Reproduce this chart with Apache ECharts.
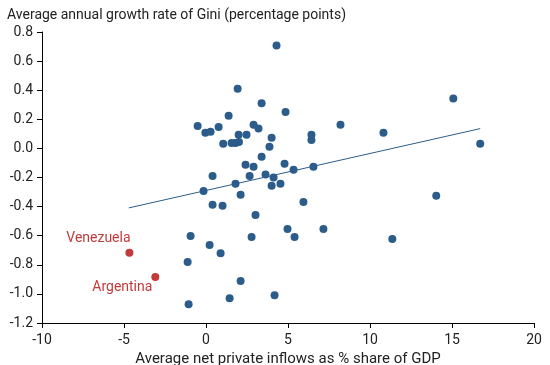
<!DOCTYPE html>
<html><head><meta charset="utf-8">
<script src="https://cdn.jsdelivr.net/npm/echarts@6/dist/echarts.min.js"></script>
<style>html,body{margin:0;padding:0;background:#fff}#c{width:550px;height:365px}</style>
</head><body><div id="c"></div>
<script>
const countryX = [4.30,1.93,3.39,4.85,1.38,-0.51,8.20,-0.04,0.28,0.77,2.90,3.20,1.99,2.47,4.00,6.43,6.43,1.05,1.56,1.80,2.01,3.87,3.39,2.41,2.90,4.79,0.40,2.66,3.63,4.12,5.34,6.55,1.80,4.00,4.54,-0.15,2.11,0.40,1.01,5.94,3.02,-0.94,4.97,7.16,2.78,5.40,0.22,0.89,-1.12,2.11,1.44,4.18,-1.06,15.08,10.82,16.72,14.04,11.36];
const countryY = [0.708,0.41,0.31,0.25,0.225,0.154,0.163,0.108,0.115,0.147,0.163,0.136,0.094,0.094,0.074,0.094,0.057,0.032,0.037,0.037,0.044,0.011,-0.057,-0.113,-0.126,-0.106,-0.19,-0.19,-0.18,-0.2,-0.147,-0.126,-0.243,-0.257,-0.243,-0.292,-0.319,-0.388,-0.395,-0.368,-0.457,-0.602,-0.554,-0.554,-0.609,-0.609,-0.664,-0.72,-0.78,-0.912,-1.03,-1.009,-1.071,0.343,0.108,0.032,-0.326,-0.623];
const highlightNames = ['Venezuela','Argentina'];
const highlightX = [-4.67,-3.09];
const highlightY = [-0.717,-0.883];
const trendX = [-4.71,16.72];
const trendY = [-0.409,0.136];
const xTicks = {min:-10,max:20,interval:5};
const yTicks = {min:-1.2,max:0.8,interval:0.2};

const BLUE = '#2b5c8a', RED = '#c23b3b', TXT = '#222';
const FONT = 'Roboto';
const chart = echarts.init(document.getElementById('c'), null, {renderer:'canvas'});
const labelOffsets = [[-31,-14],[-33,11]];
chart.setOption({
  animation:false,
  textStyle:{fontFamily:FONT},
  title:{text:'Average annual growth rate of Gini (percentage points)',left:2,top:3,
    textStyle:{fontFamily:FONT,fontSize:14,fontWeight:'normal',color:TXT}},
  grid:{left:42,right:16,top:32,bottom:42,containLabel:false,outerBoundsMode:'none'},
  xAxis:{type:'value',min:xTicks.min,max:xTicks.max,interval:xTicks.interval,
    name:'Average net private inflows as % share of GDP',nameLocation:'middle',nameGap:24,
    nameTextStyle:{fontFamily:FONT,fontSize:15,color:TXT},
    axisLine:{onZero:false,lineStyle:{color:'#000',width:1}},
    axisTick:{show:true,length:5,lineStyle:{color:'#000'}},
    axisLabel:{fontFamily:FONT,fontSize:14,color:TXT,margin:10},
    splitLine:{show:false}},
  yAxis:{type:'value',min:yTicks.min,max:yTicks.max,interval:yTicks.interval,
    axisLine:{show:true,onZero:false,lineStyle:{color:'#000',width:1}},
    axisTick:{show:true,length:5,lineStyle:{color:'#000'}},
    axisLabel:{fontFamily:FONT,fontSize:14,color:TXT,margin:9,formatter:v=>v.toFixed(1)},
    splitLine:{show:false}},
  series:[
    {type:'line',data:trendX.map((x,i)=>[x,trendY[i]]),symbol:'none',
      lineStyle:{color:BLUE,width:1},z:1},
    {type:'scatter',data:countryX.map((x,i)=>[x,countryY[i]]),symbolSize:8,
      itemStyle:{color:BLUE,opacity:1},z:2},
    {type:'scatter',symbolSize:8,itemStyle:{color:RED,opacity:1},z:3,
      data:highlightX.map((x,i)=>({value:[x,highlightY[i]],name:highlightNames[i],
        label:{show:true,position:'inside',offset:labelOffsets[i],formatter:'{b}',
          color:RED,fontFamily:FONT,fontSize:14}}))}
  ]
});
</script></body></html>
